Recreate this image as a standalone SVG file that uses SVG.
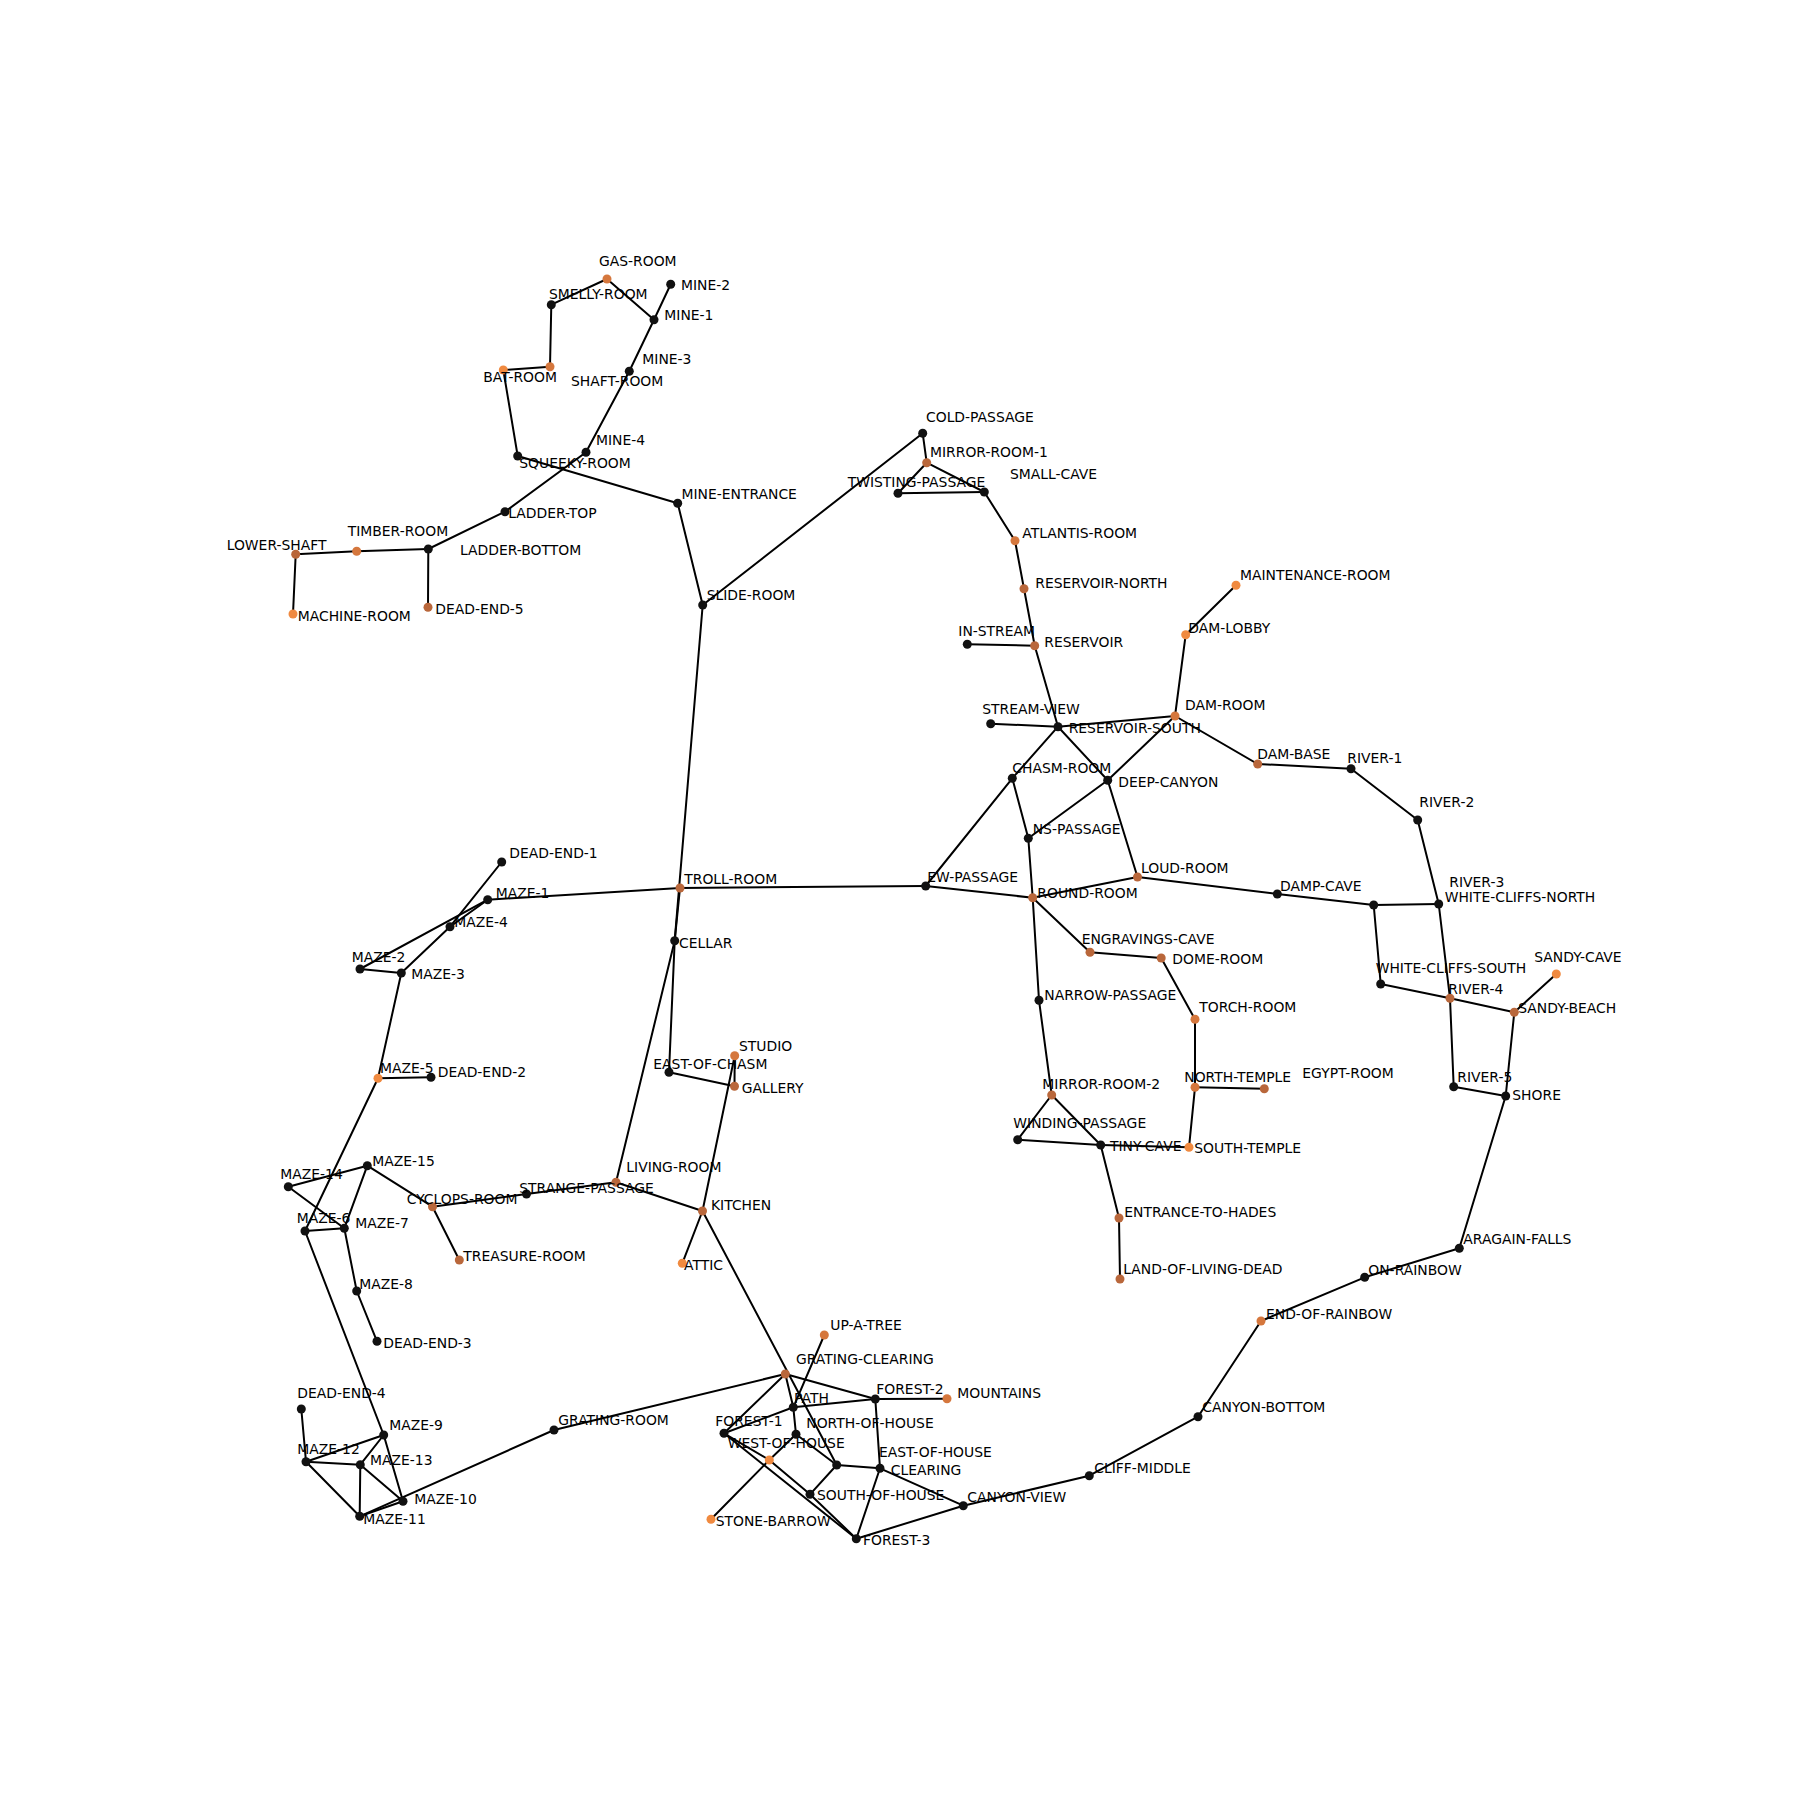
<svg xmlns="http://www.w3.org/2000/svg" width="1800" height="1800" viewBox="0 0 1800 1800">
<style>
.bg{fill:#fff}
#edges line{stroke:#000;stroke-width:2;stroke-linecap:round}
.node circle{stroke:none}
.k{fill:#111}
.o1{fill:#f08a40}
.o2{fill:#d5773d}
.o3{fill:#b9673b}
.node text{font-family:"DejaVu Sans","Liberation Sans",sans-serif;font-size:13.9px;fill:#000}
</style>
<rect class="bg" x="0" y="0" width="1800" height="1800"/>
<g id="edges">
<line x1="607" y1="279" x2="551.3" y2="304.7"/>
<line x1="607" y1="279" x2="654" y2="319.7"/>
<line x1="654" y1="319.7" x2="670.7" y2="284.3"/>
<line x1="654" y1="319.7" x2="629.3" y2="371.3"/>
<line x1="629.3" y1="371.3" x2="586" y2="452.3"/>
<line x1="586" y1="452.3" x2="505" y2="511.7"/>
<line x1="551.3" y1="304.7" x2="550" y2="366.7"/>
<line x1="550" y1="366.7" x2="503.3" y2="370"/>
<line x1="503.3" y1="370" x2="517.7" y2="456"/>
<line x1="517.7" y1="456" x2="677.7" y2="503.3"/>
<line x1="505" y1="511.7" x2="428.3" y2="549"/>
<line x1="428.3" y1="549" x2="356.7" y2="551.3"/>
<line x1="356.7" y1="551.3" x2="295.7" y2="554.3"/>
<line x1="295.7" y1="554.3" x2="293" y2="614"/>
<line x1="428.3" y1="549" x2="428" y2="607.3"/>
<line x1="677.7" y1="503.3" x2="702.7" y2="605"/>
<line x1="702.7" y1="605" x2="922.7" y2="433.3"/>
<line x1="702.7" y1="605" x2="674.7" y2="940.7"/>
<line x1="680" y1="888" x2="674.7" y2="940.7"/>
<line x1="922.7" y1="433.3" x2="926.7" y2="462.7"/>
<line x1="926.7" y1="462.7" x2="898" y2="493.3"/>
<line x1="926.7" y1="462.7" x2="984.3" y2="492"/>
<line x1="898" y1="493.3" x2="984.3" y2="492"/>
<line x1="984.3" y1="492" x2="1015" y2="540.7"/>
<line x1="1015" y1="540.7" x2="1024" y2="588.7"/>
<line x1="1024" y1="588.7" x2="1034.7" y2="645.7"/>
<line x1="967.3" y1="644.3" x2="1034.7" y2="645.7"/>
<line x1="1034.7" y1="645.7" x2="1058" y2="726.7"/>
<line x1="990.7" y1="723.7" x2="1058" y2="726.7"/>
<line x1="1058" y1="726.7" x2="1175" y2="716"/>
<line x1="1058" y1="726.7" x2="1012.3" y2="778.3"/>
<line x1="1058" y1="726.7" x2="1107.7" y2="780.3"/>
<line x1="1012.3" y1="778.3" x2="925.7" y2="886"/>
<line x1="1012.3" y1="778.3" x2="1028.3" y2="838.3"/>
<line x1="1028.3" y1="838.3" x2="1107.7" y2="780.3"/>
<line x1="1107.7" y1="780.3" x2="1175" y2="716"/>
<line x1="1107.7" y1="780.3" x2="1137.5" y2="877"/>
<line x1="1028.3" y1="838.3" x2="1032.7" y2="897.7"/>
<line x1="1175" y1="716" x2="1185.7" y2="634.7"/>
<line x1="1185.7" y1="634.7" x2="1236" y2="585.3"/>
<line x1="1175" y1="716" x2="1257.7" y2="764"/>
<line x1="1257.7" y1="764" x2="1351" y2="768.7"/>
<line x1="1351" y1="768.7" x2="1417.7" y2="820"/>
<line x1="1417.7" y1="820" x2="1438.7" y2="904"/>
<line x1="1438.7" y1="904" x2="1373.7" y2="905"/>
<line x1="1438.7" y1="904" x2="1450" y2="998.3"/>
<line x1="1373.7" y1="905" x2="1277.3" y2="894"/>
<line x1="1277.3" y1="894" x2="1137.5" y2="877"/>
<line x1="1373.7" y1="905" x2="1380.7" y2="984"/>
<line x1="1380.7" y1="984" x2="1450" y2="998.3"/>
<line x1="1450" y1="998.3" x2="1514.3" y2="1012.3"/>
<line x1="1514.3" y1="1012.3" x2="1556.3" y2="974"/>
<line x1="1514.3" y1="1012.3" x2="1505.7" y2="1096"/>
<line x1="1450" y1="998.3" x2="1453.7" y2="1086.7"/>
<line x1="1453.7" y1="1086.7" x2="1505.7" y2="1096"/>
<line x1="1505.7" y1="1096" x2="1459.3" y2="1248.3"/>
<line x1="1459.3" y1="1248.3" x2="1364.7" y2="1277.3"/>
<line x1="1364.7" y1="1277.3" x2="1261" y2="1321"/>
<line x1="1261" y1="1321" x2="1198" y2="1416.7"/>
<line x1="1198" y1="1416.7" x2="1089.3" y2="1475.7"/>
<line x1="1089.3" y1="1475.7" x2="963.3" y2="1505.7"/>
<line x1="680" y1="888" x2="925.7" y2="886"/>
<line x1="925.7" y1="886" x2="1032.7" y2="897.7"/>
<line x1="1032.7" y1="897.7" x2="1137.5" y2="877"/>
<line x1="1032.7" y1="897.7" x2="1090" y2="952.3"/>
<line x1="1090" y1="952.3" x2="1161.2" y2="958"/>
<line x1="1161.2" y1="958" x2="1195" y2="1019.3"/>
<line x1="1195" y1="1019.3" x2="1195" y2="1087.3"/>
<line x1="1195" y1="1087.3" x2="1264.3" y2="1088.7"/>
<line x1="1195" y1="1087.3" x2="1189" y2="1147.3"/>
<line x1="1189" y1="1147.3" x2="1100.7" y2="1145"/>
<line x1="1032.7" y1="897.7" x2="1039" y2="1000.3"/>
<line x1="1039" y1="1000.3" x2="1051.7" y2="1095"/>
<line x1="1051.7" y1="1095" x2="1017.7" y2="1139.7"/>
<line x1="1051.7" y1="1095" x2="1100.7" y2="1145"/>
<line x1="1017.7" y1="1139.7" x2="1100.7" y2="1145"/>
<line x1="1100.7" y1="1145" x2="1119" y2="1218"/>
<line x1="1119" y1="1218" x2="1120" y2="1279"/>
<line x1="680" y1="888" x2="487.7" y2="899.7"/>
<line x1="674.7" y1="940.7" x2="669" y2="1072.3"/>
<line x1="674.7" y1="940.7" x2="616" y2="1182.3"/>
<line x1="669" y1="1072.3" x2="734.5" y2="1086.2"/>
<line x1="734.5" y1="1086.2" x2="734.7" y2="1055.8"/>
<line x1="734.7" y1="1055.8" x2="702.5" y2="1211"/>
<line x1="616" y1="1182.3" x2="702.5" y2="1211"/>
<line x1="616" y1="1182.3" x2="526.5" y2="1194"/>
<line x1="526.5" y1="1194" x2="432.5" y2="1206.7"/>
<line x1="432.5" y1="1206.7" x2="459.3" y2="1260"/>
<line x1="432.5" y1="1206.7" x2="367.3" y2="1165.7"/>
<line x1="702.5" y1="1211" x2="682.3" y2="1263.3"/>
<line x1="702.5" y1="1211" x2="836.7" y2="1465"/>
<line x1="487.7" y1="899.7" x2="360" y2="969"/>
<line x1="487.7" y1="899.7" x2="450" y2="926.7"/>
<line x1="450" y1="926.7" x2="501.7" y2="862"/>
<line x1="450" y1="926.7" x2="401.3" y2="973"/>
<line x1="360" y1="969" x2="401.3" y2="973"/>
<line x1="401.3" y1="973" x2="378" y2="1078.3"/>
<line x1="378" y1="1078.3" x2="431" y2="1077.3"/>
<line x1="378" y1="1078.3" x2="305" y2="1231"/>
<line x1="288.3" y1="1186.7" x2="367.3" y2="1165.7"/>
<line x1="288.3" y1="1186.7" x2="344.3" y2="1228.3"/>
<line x1="367.3" y1="1165.7" x2="344.3" y2="1228.3"/>
<line x1="305" y1="1231" x2="344.3" y2="1228.3"/>
<line x1="344.3" y1="1228.3" x2="356.7" y2="1291"/>
<line x1="356.7" y1="1291" x2="377" y2="1341.3"/>
<line x1="305" y1="1231" x2="383.7" y2="1435"/>
<line x1="301.3" y1="1409" x2="306" y2="1461.7"/>
<line x1="306" y1="1461.7" x2="383.7" y2="1435"/>
<line x1="306" y1="1461.7" x2="360.3" y2="1464.7"/>
<line x1="306" y1="1461.7" x2="359.7" y2="1516.3"/>
<line x1="383.7" y1="1435" x2="360.3" y2="1464.7"/>
<line x1="383.7" y1="1435" x2="403" y2="1501.3"/>
<line x1="360.3" y1="1464.7" x2="359.7" y2="1516.3"/>
<line x1="360.3" y1="1464.7" x2="403" y2="1501.3"/>
<line x1="359.7" y1="1516.3" x2="403" y2="1501.3"/>
<line x1="359.7" y1="1516.3" x2="554" y2="1430"/>
<line x1="554" y1="1430" x2="785.3" y2="1374"/>
<line x1="785.3" y1="1374" x2="724" y2="1433.3"/>
<line x1="785.3" y1="1374" x2="875.3" y2="1399"/>
<line x1="785.3" y1="1374" x2="793.3" y2="1407.3"/>
<line x1="793.3" y1="1407.3" x2="824.3" y2="1335"/>
<line x1="793.3" y1="1407.3" x2="875.3" y2="1399"/>
<line x1="793.3" y1="1407.3" x2="724" y2="1433.3"/>
<line x1="793.3" y1="1407.3" x2="796" y2="1434.3"/>
<line x1="875.3" y1="1399" x2="947" y2="1398.7"/>
<line x1="875.3" y1="1399" x2="880" y2="1468.3"/>
<line x1="796" y1="1434.3" x2="769.3" y2="1460"/>
<line x1="769.3" y1="1460" x2="711" y2="1519.3"/>
<line x1="769.3" y1="1460" x2="724" y2="1433.3"/>
<line x1="769.3" y1="1460" x2="810" y2="1494.3"/>
<line x1="810" y1="1494.3" x2="856.3" y2="1538.7"/>
<line x1="724" y1="1433.3" x2="856.3" y2="1538.7"/>
<line x1="796" y1="1434.3" x2="836.7" y2="1465"/>
<line x1="810" y1="1494.3" x2="836.7" y2="1465"/>
<line x1="836.7" y1="1465" x2="880" y2="1468.3"/>
<line x1="880" y1="1468.3" x2="856.3" y2="1538.7"/>
<line x1="880" y1="1468.3" x2="963.3" y2="1505.7"/>
<line x1="856.3" y1="1538.7" x2="963.3" y2="1505.7"/>
</g>
<g id="nodes">
<g id="n-gas-room" class="node"><circle class="o2" cx="607" cy="279" r="4.5"/><text x="599" y="266">GAS-ROOM</text></g>
<g id="n-mine-2" class="node"><circle class="k" cx="670.7" cy="284.3" r="4.5"/><text x="681" y="289.5">MINE-2</text></g>
<g id="n-smelly-room" class="node"><circle class="k" cx="551.3" cy="304.7" r="4.5"/><text x="549" y="299">SMELLY-ROOM</text></g>
<g id="n-mine-1" class="node"><circle class="k" cx="654" cy="319.7" r="4.5"/><text x="664.3" y="320">MINE-1</text></g>
<g id="n-shaft-room" class="node"><circle class="o2" cx="550" cy="366.7" r="4.5"/><text x="571" y="386">SHAFT-ROOM</text></g>
<g id="n-bat-room" class="node"><circle class="o1" cx="503.3" cy="370" r="4.5"/><text x="483.3" y="382">BAT-ROOM</text></g>
<g id="n-mine-3" class="node"><circle class="k" cx="629.3" cy="371.3" r="4.5"/><text x="642.3" y="364">MINE-3</text></g>
<g id="n-mine-4" class="node"><circle class="k" cx="586" cy="452.3" r="4.5"/><text x="596" y="445">MINE-4</text></g>
<g id="n-squeeky-room" class="node"><circle class="k" cx="517.7" cy="456" r="4.5"/><text x="519.3" y="467.7">SQUEEKY-ROOM</text></g>
<g id="n-mine-entrance" class="node"><circle class="k" cx="677.7" cy="503.3" r="4.5"/><text x="681.5" y="499">MINE-ENTRANCE</text></g>
<g id="n-ladder-top" class="node"><circle class="k" cx="505" cy="511.7" r="4.5"/><text x="508.3" y="517.7">LADDER-TOP</text></g>
<g id="n-ladder-bottom" class="node"><circle class="k" cx="428.3" cy="549" r="4.5"/><text x="460" y="555">LADDER-BOTTOM</text></g>
<g id="n-timber-room" class="node"><circle class="o2" cx="356.7" cy="551.3" r="4.5"/><text x="347.7" y="536">TIMBER-ROOM</text></g>
<g id="n-lower-shaft" class="node"><circle class="o3" cx="295.7" cy="554.3" r="4.5"/><text x="226.7" y="550">LOWER-SHAFT</text></g>
<g id="n-machine-room" class="node"><circle class="o1" cx="293" cy="614" r="4.5"/><text x="297.7" y="620.7">MACHINE-ROOM</text></g>
<g id="n-dead-end-5" class="node"><circle class="o3" cx="428" cy="607.3" r="4.5"/><text x="435.3" y="614">DEAD-END-5</text></g>
<g id="n-slide-room" class="node"><circle class="k" cx="702.7" cy="605" r="4.5"/><text x="706.7" y="600">SLIDE-ROOM</text></g>
<g id="n-cold-passage" class="node"><circle class="k" cx="922.7" cy="433.3" r="4.5"/><text x="926" y="422.3">COLD-PASSAGE</text></g>
<g id="n-mirror-room-1" class="node"><circle class="o3" cx="926.7" cy="462.7" r="4.5"/><text x="930" y="456.7">MIRROR-ROOM-1</text></g>
<g id="n-twisting-passage" class="node"><circle class="k" cx="898" cy="493.3" r="4.5"/><text x="847.7" y="487.3">TWISTING-PASSAGE</text></g>
<g id="n-small-cave" class="node"><circle class="k" cx="984.3" cy="492" r="4.5"/><text x="1010" y="479.3">SMALL-CAVE</text></g>
<g id="n-atlantis-room" class="node"><circle class="o2" cx="1015" cy="540.7" r="4.5"/><text x="1022.3" y="538.3">ATLANTIS-ROOM</text></g>
<g id="n-reservoir-north" class="node"><circle class="o3" cx="1024" cy="588.7" r="4.5"/><text x="1035.3" y="588.3">RESERVOIR-NORTH</text></g>
<g id="n-in-stream" class="node"><circle class="k" cx="967.3" cy="644.3" r="4.5"/><text x="958.3" y="636">IN-STREAM</text></g>
<g id="n-reservoir" class="node"><circle class="o3" cx="1034.7" cy="645.7" r="4.5"/><text x="1044.3" y="646.7">RESERVOIR</text></g>
<g id="n-stream-view" class="node"><circle class="k" cx="990.7" cy="723.7" r="4.5"/><text x="982.3" y="714.3">STREAM-VIEW</text></g>
<g id="n-reservoir-south" class="node"><circle class="k" cx="1058" cy="726.7" r="4.5"/><text x="1068.7" y="733.3">RESERVOIR-SOUTH</text></g>
<g id="n-chasm-room" class="node"><circle class="k" cx="1012.3" cy="778.3" r="4.5"/><text x="1012.3" y="773.3">CHASM-ROOM</text></g>
<g id="n-deep-canyon" class="node"><circle class="k" cx="1107.7" cy="780.3" r="4.5"/><text x="1118.3" y="787.3">DEEP-CANYON</text></g>
<g id="n-ns-passage" class="node"><circle class="k" cx="1028.3" cy="838.3" r="4.5"/><text x="1032.7" y="834.3">NS-PASSAGE</text></g>
<g id="n-dam-room" class="node"><circle class="o2" cx="1175" cy="716" r="4.5"/><text x="1185" y="710">DAM-ROOM</text></g>
<g id="n-dam-lobby" class="node"><circle class="o1" cx="1185.7" cy="634.7" r="4.5"/><text x="1188.3" y="633.3">DAM-LOBBY</text></g>
<g id="n-maintenance-room" class="node"><circle class="o1" cx="1236" cy="585.3" r="4.5"/><text x="1240" y="580">MAINTENANCE-ROOM</text></g>
<g id="n-dam-base" class="node"><circle class="o3" cx="1257.7" cy="764" r="4.5"/><text x="1257.3" y="759.3">DAM-BASE</text></g>
<g id="n-river-1" class="node"><circle class="k" cx="1351" cy="768.7" r="4.5"/><text x="1347.3" y="763.3">RIVER-1</text></g>
<g id="n-river-2" class="node"><circle class="k" cx="1417.7" cy="820" r="4.5"/><text x="1419.3" y="807.3">RIVER-2</text></g>
<g id="n-damp-cave" class="node"><circle class="k" cx="1277.3" cy="894" r="4.5"/><text x="1280" y="890.7">DAMP-CAVE</text></g>
<g id="n-white-cliffs-north" class="node"><circle class="k" cx="1373.7" cy="905" r="4.5"/><text x="1444.7" y="901.7">WHITE-CLIFFS-NORTH</text></g>
<g id="n-river-3" class="node"><circle class="k" cx="1438.7" cy="904" r="4.5"/><text x="1449.3" y="886.7">RIVER-3</text></g>
<g id="n-white-cliffs-south" class="node"><circle class="k" cx="1380.7" cy="984" r="4.5"/><text x="1375.7" y="973.3">WHITE-CLIFFS-SOUTH</text></g>
<g id="n-river-4" class="node"><circle class="o3" cx="1450" cy="998.3" r="4.5"/><text x="1448.3" y="994.3">RIVER-4</text></g>
<g id="n-sandy-beach" class="node"><circle class="o3" cx="1514.3" cy="1012.3" r="4.5"/><text x="1518.3" y="1013.3">SANDY-BEACH</text></g>
<g id="n-sandy-cave" class="node"><circle class="o1" cx="1556.3" cy="974" r="4.5"/><text x="1534.3" y="962.3">SANDY-CAVE</text></g>
<g id="n-river-5" class="node"><circle class="k" cx="1453.7" cy="1086.7" r="4.5"/><text x="1457.3" y="1082.3">RIVER-5</text></g>
<g id="n-shore" class="node"><circle class="k" cx="1505.7" cy="1096" r="4.5"/><text x="1512.3" y="1100">SHORE</text></g>
<g id="n-aragain-falls" class="node"><circle class="k" cx="1459.3" cy="1248.3" r="4.5"/><text x="1463.3" y="1244.3">ARAGAIN-FALLS</text></g>
<g id="n-on-rainbow" class="node"><circle class="k" cx="1364.7" cy="1277.3" r="4.5"/><text x="1368.3" y="1275">ON-RAINBOW</text></g>
<g id="n-end-of-rainbow" class="node"><circle class="o2" cx="1261" cy="1321" r="4.5"/><text x="1266" y="1319">END-OF-RAINBOW</text></g>
<g id="n-canyon-bottom" class="node"><circle class="k" cx="1198" cy="1416.7" r="4.5"/><text x="1202.3" y="1411.7">CANYON-BOTTOM</text></g>
<g id="n-cliff-middle" class="node"><circle class="k" cx="1089.3" cy="1475.7" r="4.5"/><text x="1094.3" y="1472.7">CLIFF-MIDDLE</text></g>
<g id="n-canyon-view" class="node"><circle class="k" cx="963.3" cy="1505.7" r="4.5"/><text x="967.3" y="1501.7">CANYON-VIEW</text></g>
<g id="n-loud-room" class="node"><circle class="o3" cx="1137.5" cy="877" r="4.5"/><text x="1141" y="873.3">LOUD-ROOM</text></g>
<g id="n-dome-room" class="node"><circle class="o3" cx="1161.2" cy="958" r="4.5"/><text x="1172.3" y="964.3">DOME-ROOM</text></g>
<g id="n-torch-room" class="node"><circle class="o2" cx="1195" cy="1019.3" r="4.5"/><text x="1199.3" y="1012.3">TORCH-ROOM</text></g>
<g id="n-north-temple" class="node"><circle class="o2" cx="1195" cy="1087.3" r="4.5"/><text x="1184.3" y="1082.3">NORTH-TEMPLE</text></g>
<g id="n-egypt-room" class="node"><circle class="o3" cx="1264.3" cy="1088.7" r="4.5"/><text x="1302.3" y="1078.3">EGYPT-ROOM</text></g>
<g id="n-south-temple" class="node"><circle class="o1" cx="1189" cy="1147.3" r="4.5"/><text x="1194.3" y="1153.3">SOUTH-TEMPLE</text></g>
<g id="n-troll-room" class="node"><circle class="o3" cx="680" cy="888" r="4.5"/><text x="684.3" y="884.3">TROLL-ROOM</text></g>
<g id="n-ew-passage" class="node"><circle class="k" cx="925.7" cy="886" r="4.5"/><text x="927.3" y="881.7">EW-PASSAGE</text></g>
<g id="n-round-room" class="node"><circle class="o3" cx="1032.7" cy="897.7" r="4.5"/><text x="1037.3" y="898.3">ROUND-ROOM</text></g>
<g id="n-engravings-cave" class="node"><circle class="o3" cx="1090" cy="952.3" r="4.5"/><text x="1081.7" y="944">ENGRAVINGS-CAVE</text></g>
<g id="n-narrow-passage" class="node"><circle class="k" cx="1039" cy="1000.3" r="4.5"/><text x="1044.3" y="1000">NARROW-PASSAGE</text></g>
<g id="n-mirror-room-2" class="node"><circle class="o3" cx="1051.7" cy="1095" r="4.5"/><text x="1042.3" y="1089">MIRROR-ROOM-2</text></g>
<g id="n-winding-passage" class="node"><circle class="k" cx="1017.7" cy="1139.7" r="4.5"/><text x="1013.3" y="1128">WINDING-PASSAGE</text></g>
<g id="n-tiny-cave" class="node"><circle class="k" cx="1100.7" cy="1145" r="4.5"/><text x="1110" y="1150.7">TINY-CAVE</text></g>
<g id="n-entrance-to-hades" class="node"><circle class="o3" cx="1119" cy="1218" r="4.5"/><text x="1124.3" y="1216.7">ENTRANCE-TO-HADES</text></g>
<g id="n-land-of-living-dead" class="node"><circle class="o3" cx="1120" cy="1279" r="4.5"/><text x="1123.3" y="1274.3">LAND-OF-LIVING-DEAD</text></g>
<g id="n-cellar" class="node"><circle class="k" cx="674.7" cy="940.7" r="4.5"/><text x="679" y="948.3">CELLAR</text></g>
<g id="n-east-of-chasm" class="node"><circle class="k" cx="669" cy="1072.3" r="4.5"/><text x="653.3" y="1069">EAST-OF-CHASM</text></g>
<g id="n-studio" class="node"><circle class="o2" cx="734.7" cy="1055.8" r="4.5"/><text x="739" y="1050.7">STUDIO</text></g>
<g id="n-gallery" class="node"><circle class="o3" cx="734.5" cy="1086.2" r="4.5"/><text x="741.7" y="1093.3">GALLERY</text></g>
<g id="n-kitchen" class="node"><circle class="o3" cx="702.5" cy="1211" r="4.5"/><text x="711" y="1210">KITCHEN</text></g>
<g id="n-attic" class="node"><circle class="o1" cx="682.3" cy="1263.3" r="4.5"/><text x="684" y="1270">ATTIC</text></g>
<g id="n-living-room" class="node"><circle class="o3" cx="616" cy="1182.3" r="4.5"/><text x="626.3" y="1171.7">LIVING-ROOM</text></g>
<g id="n-strange-passage" class="node"><circle class="k" cx="526.5" cy="1194" r="4.5"/><text x="519.3" y="1192.7">STRANGE-PASSAGE</text></g>
<g id="n-cyclops-room" class="node"><circle class="o3" cx="432.5" cy="1206.7" r="4.5"/><text x="406.7" y="1204">CYCLOPS-ROOM</text></g>
<g id="n-treasure-room" class="node"><circle class="o3" cx="459.3" cy="1260" r="4.5"/><text x="463.3" y="1261">TREASURE-ROOM</text></g>
<g id="n-dead-end-1" class="node"><circle class="k" cx="501.7" cy="862" r="4.5"/><text x="509.3" y="858.3">DEAD-END-1</text></g>
<g id="n-maze-1" class="node"><circle class="k" cx="487.7" cy="899.7" r="4.5"/><text x="495.7" y="898.3">MAZE-1</text></g>
<g id="n-maze-4" class="node"><circle class="k" cx="450" cy="926.7" r="4.5"/><text x="454.3" y="927.3">MAZE-4</text></g>
<g id="n-maze-2" class="node"><circle class="k" cx="360" cy="969" r="4.5"/><text x="351.7" y="962.3">MAZE-2</text></g>
<g id="n-maze-3" class="node"><circle class="k" cx="401.3" cy="973" r="4.5"/><text x="411.3" y="979.3">MAZE-3</text></g>
<g id="n-maze-5" class="node"><circle class="o1" cx="378" cy="1078.3" r="4.5"/><text x="380" y="1073.3">MAZE-5</text></g>
<g id="n-dead-end-2" class="node"><circle class="k" cx="431" cy="1077.3" r="4.5"/><text x="437.7" y="1077.3">DEAD-END-2</text></g>
<g id="n-maze-15" class="node"><circle class="k" cx="367.3" cy="1165.7" r="4.5"/><text x="372.3" y="1166">MAZE-15</text></g>
<g id="n-maze-14" class="node"><circle class="k" cx="288.3" cy="1186.7" r="4.5"/><text x="280.3" y="1179.3">MAZE-14</text></g>
<g id="n-maze-6" class="node"><circle class="k" cx="305" cy="1231" r="4.5"/><text x="296.7" y="1223.3">MAZE-6</text></g>
<g id="n-maze-7" class="node"><circle class="k" cx="344.3" cy="1228.3" r="4.5"/><text x="355.3" y="1228.3">MAZE-7</text></g>
<g id="n-maze-8" class="node"><circle class="k" cx="356.7" cy="1291" r="4.5"/><text x="359.3" y="1289.3">MAZE-8</text></g>
<g id="n-dead-end-3" class="node"><circle class="k" cx="377" cy="1341.3" r="4.5"/><text x="383.3" y="1348">DEAD-END-3</text></g>
<g id="n-dead-end-4" class="node"><circle class="k" cx="301.3" cy="1409" r="4.5"/><text x="297.3" y="1398.3">DEAD-END-4</text></g>
<g id="n-maze-9" class="node"><circle class="k" cx="383.7" cy="1435" r="4.5"/><text x="389.3" y="1430">MAZE-9</text></g>
<g id="n-maze-12" class="node"><circle class="k" cx="306" cy="1461.7" r="4.5"/><text x="297.3" y="1454.3">MAZE-12</text></g>
<g id="n-maze-13" class="node"><circle class="k" cx="360.3" cy="1464.7" r="4.5"/><text x="370" y="1465">MAZE-13</text></g>
<g id="n-maze-10" class="node"><circle class="k" cx="403" cy="1501.3" r="4.5"/><text x="414.3" y="1504">MAZE-10</text></g>
<g id="n-maze-11" class="node"><circle class="k" cx="359.7" cy="1516.3" r="4.5"/><text x="363.3" y="1524">MAZE-11</text></g>
<g id="n-grating-room" class="node"><circle class="k" cx="554" cy="1430" r="4.5"/><text x="558.3" y="1425">GRATING-ROOM</text></g>
<g id="n-grating-clearing" class="node"><circle class="o3" cx="785.3" cy="1374" r="4.5"/><text x="796" y="1364">GRATING-CLEARING</text></g>
<g id="n-up-a-tree" class="node"><circle class="o2" cx="824.3" cy="1335" r="4.5"/><text x="830.3" y="1330">UP-A-TREE</text></g>
<g id="n-path" class="node"><circle class="k" cx="793.3" cy="1407.3" r="4.5"/><text x="794" y="1402.7">PATH</text></g>
<g id="n-forest-2" class="node"><circle class="k" cx="875.3" cy="1399" r="4.5"/><text x="876.3" y="1394">FOREST-2</text></g>
<g id="n-mountains" class="node"><circle class="o2" cx="947" cy="1398.7" r="4.5"/><text x="957.3" y="1397.7">MOUNTAINS</text></g>
<g id="n-forest-1" class="node"><circle class="k" cx="724" cy="1433.3" r="4.5"/><text x="715.3" y="1426">FOREST-1</text></g>
<g id="n-north-of-house" class="node"><circle class="k" cx="796" cy="1434.3" r="4.5"/><text x="806.3" y="1427.7">NORTH-OF-HOUSE</text></g>
<g id="n-west-of-house" class="node"><circle class="o1" cx="769.3" cy="1460" r="4.5"/><text x="727.7" y="1447.7">WEST-OF-HOUSE</text></g>
<g id="n-east-of-house" class="node"><circle class="k" cx="836.7" cy="1465" r="4.5"/><text x="879" y="1456.7">EAST-OF-HOUSE</text></g>
<g id="n-clearing" class="node"><circle class="k" cx="880" cy="1468.3" r="4.5"/><text x="890.7" y="1475">CLEARING</text></g>
<g id="n-south-of-house" class="node"><circle class="k" cx="810" cy="1494.3" r="4.5"/><text x="817" y="1500">SOUTH-OF-HOUSE</text></g>
<g id="n-stone-barrow" class="node"><circle class="o1" cx="711" cy="1519.3" r="4.5"/><text x="715.7" y="1526">STONE-BARROW</text></g>
<g id="n-forest-3" class="node"><circle class="k" cx="856.3" cy="1538.7" r="4.5"/><text x="863" y="1545">FOREST-3</text></g>
</g>
</svg>
